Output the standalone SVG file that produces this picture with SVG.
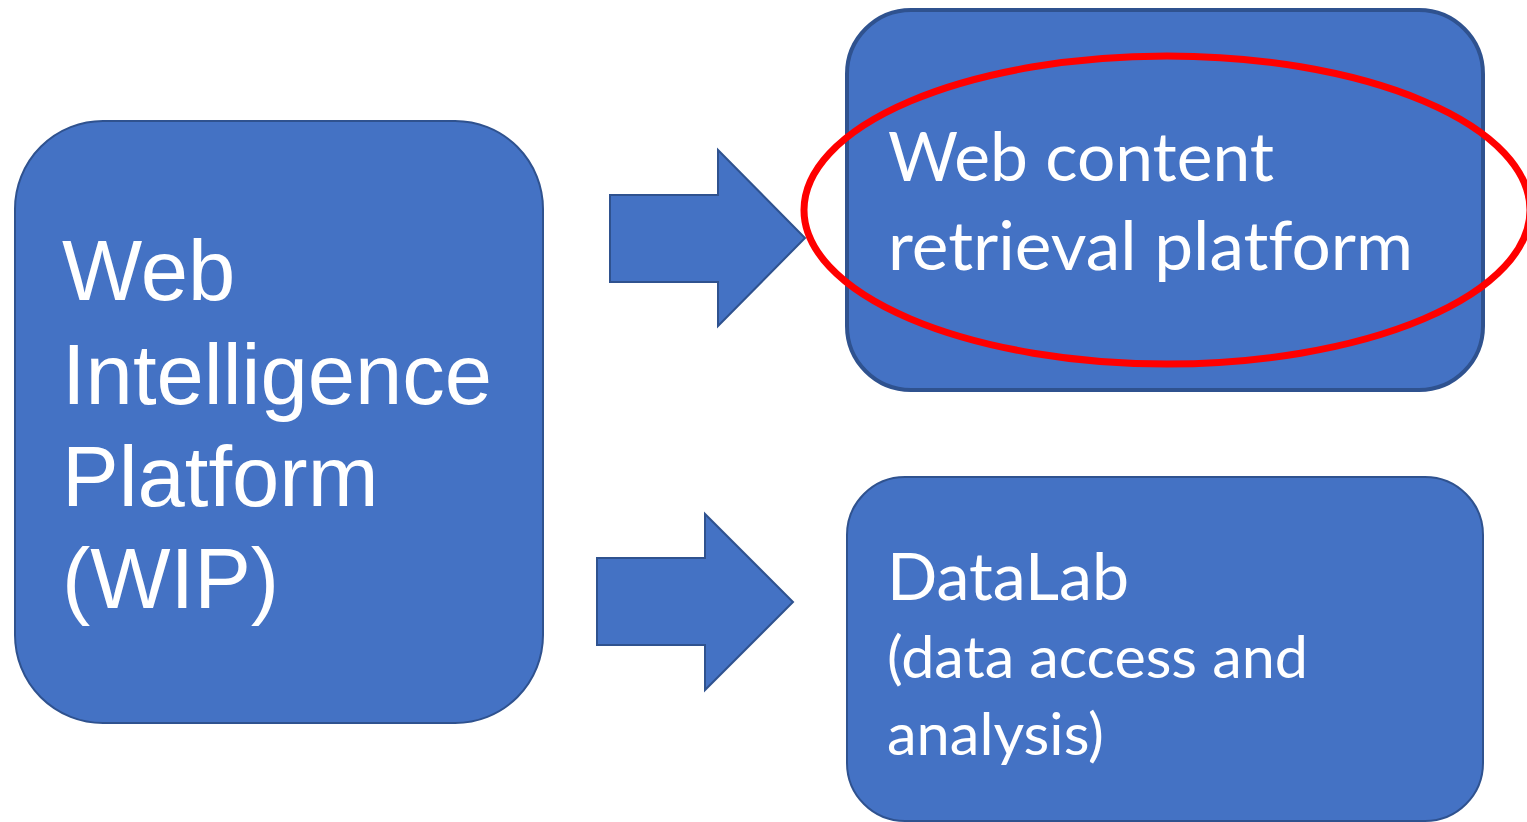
<svg xmlns="http://www.w3.org/2000/svg" width="1527" height="822" viewBox="0 0 1527 822">
<style>
.box{fill:#4472C4;stroke:#2F528F;stroke-width:2}
.arrow{fill:#4472C4;stroke:#2F528F;stroke-width:2;stroke-linejoin:miter}
.t1{font-family:"Liberation Sans",Arial,sans-serif;font-size:85px;fill:#fff}
.t2{font-family:Lato,"Open Sans",sans-serif;fill:#fff;font-variant-ligatures:none;font-feature-settings:"liga" 0, "dlig" 0, "clig" 0}
</style>
<rect width="1527" height="822" fill="#fff"/>
<g id="wip">
<rect class="box" x="15" y="121" width="528" height="602" rx="88" ry="88"/>
<text class="t1" x="62" y="300">Web</text>
<text class="t1" x="62" y="404">Intelligence</text>
<text class="t1" x="62" y="506">Platform</text>
<text class="t1" x="62" y="608">(WIP)</text>
</g>
<g id="retrieval">
<rect class="box" style="stroke-width:4" x="847" y="10" width="636" height="380" rx="64" ry="64"/>
<text class="t2" x="888" y="181" font-size="68" textLength="386" lengthAdjust="spacingAndGlyphs">Web content</text>
<text class="t2" x="888" y="270" font-size="68" textLength="525" lengthAdjust="spacingAndGlyphs">retrieval plat&#x200C;form</text>
</g>
<g id="datalab">
<rect class="box" x="847" y="477" width="636" height="344" rx="58" ry="58"/>
<text class="t2" x="887" y="600" font-size="66" textLength="242" lengthAdjust="spacingAndGlyphs">DataLab</text>
<text class="t2" x="887" y="678" font-size="58" textLength="421" lengthAdjust="spacingAndGlyphs">(data access and</text>
<text class="t2" x="887" y="755" font-size="58" textLength="217" lengthAdjust="spacingAndGlyphs">analysis)</text>
</g>
<g id="connectors">
<polygon class="arrow" points="610,195 718,195 718,150 805,238 718,326 718,282 610,282"/>
<polygon class="arrow" points="597,558 705,558 705,514 793,602 705,690 705,645 597,645"/>
</g>
<g id="highlight">
<ellipse cx="1167" cy="210" rx="363" ry="154" fill="none" stroke="#FF0000" stroke-width="7"/>
</g>
</svg>
